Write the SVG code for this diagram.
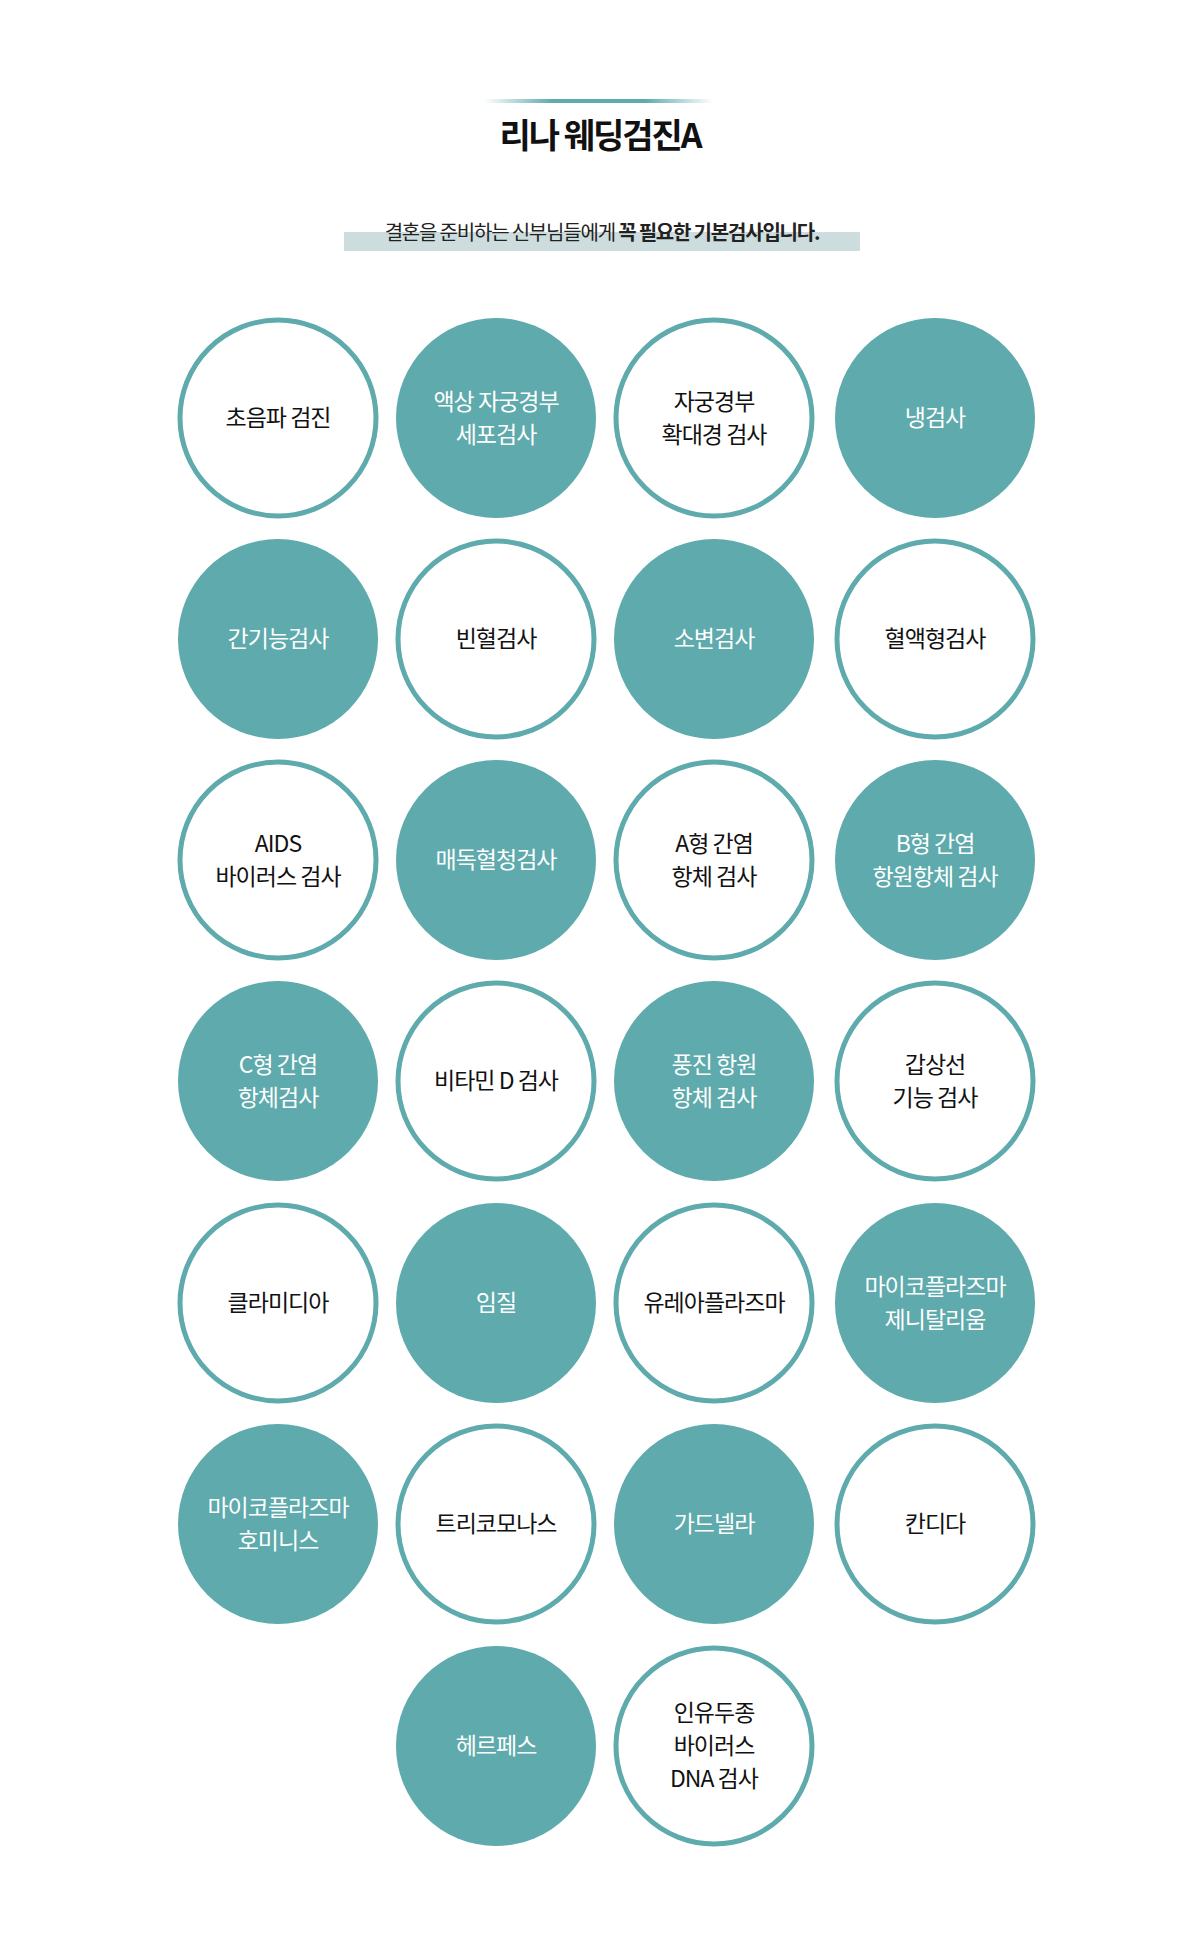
<svg xmlns="http://www.w3.org/2000/svg" width="1200" height="1943" viewBox="0 0 1200 1943">
<defs>
<linearGradient id="g" x1="0" x2="1"><stop offset="0" stop-color="#5eaaac" stop-opacity="0"/><stop offset="0.3" stop-color="#5eaaac"/><stop offset="0.7" stop-color="#5eaaac"/><stop offset="1" stop-color="#5eaaac" stop-opacity="0"/></linearGradient>
<style>
text{font-family:"Noto Sans CJK KR","Noto Sans",sans-serif;text-anchor:middle}
.f circle{fill:#5eaaac}
.f text{fill:#fff}
.o circle{fill:#fff;stroke:#5eaaac;stroke-width:5}
.o text{fill:#111}
.n text{font-size:23px;letter-spacing:-1px}
</style>
</defs>
<rect width="1200" height="1943" fill="#fff"/>
<rect x="484" y="99" width="229" height="4" fill="url(#g)"/>
<text x="600" y="148" font-size="34" font-weight="bold" fill="#111" letter-spacing="-2">리나 웨딩검진A</text>
<rect x="344" y="232" width="516" height="19" fill="#cddddd"/>
<text x="602" y="240" font-size="20" fill="#222" letter-spacing="-1.2">결혼을 준비하는 신부님들에게 <tspan font-weight="bold">꼭 필요한 기본검사입니다.</tspan></text>
<g class="n">
<g id="n1" class="o"><circle cx="278" cy="418" r="98"/><text x="278" y="426">초음파 검진</text></g>
<g id="n2" class="f"><circle cx="496" cy="418" r="100"/><text x="496" y="410">액상 자궁경부</text><text x="496" y="443">세포검사</text></g>
<g id="n3" class="o"><circle cx="714" cy="418" r="98"/><text x="714" y="410">자궁경부</text><text x="714" y="443">확대경 검사</text></g>
<g id="n4" class="f"><circle cx="935" cy="418" r="100"/><text x="935" y="426">냉검사</text></g>

<g id="n5" class="f"><circle cx="278" cy="639" r="100"/><text x="278" y="647">간기능검사</text></g>
<g id="n6" class="o"><circle cx="496" cy="639" r="98"/><text x="496" y="647">빈혈검사</text></g>
<g id="n7" class="f"><circle cx="714" cy="639" r="100"/><text x="714" y="647">소변검사</text></g>
<g id="n8" class="o"><circle cx="935" cy="639" r="98"/><text x="935" y="647">혈액형검사</text></g>

<g id="n9" class="o"><circle cx="278" cy="860" r="98"/><text x="278" y="852">AIDS</text><text x="278" y="885">바이러스 검사</text></g>
<g id="n10" class="f"><circle cx="496" cy="860" r="100"/><text x="496" y="868">매독혈청검사</text></g>
<g id="n11" class="o"><circle cx="714" cy="860" r="98"/><text x="714" y="852">A형 간염</text><text x="714" y="885">항체 검사</text></g>
<g id="n12" class="f"><circle cx="935" cy="860" r="100"/><text x="935" y="852">B형 간염</text><text x="935" y="885">항원항체 검사</text></g>

<g id="n13" class="f"><circle cx="278" cy="1081" r="100"/><text x="278" y="1073">C형 간염</text><text x="278" y="1106">항체검사</text></g>
<g id="n14" class="o"><circle cx="496" cy="1081" r="98"/><text x="496" y="1089">비타민 D 검사</text></g>
<g id="n15" class="f"><circle cx="714" cy="1081" r="100"/><text x="714" y="1073">풍진 항원</text><text x="714" y="1106">항체 검사</text></g>
<g id="n16" class="o"><circle cx="935" cy="1081" r="98"/><text x="935" y="1073">갑상선</text><text x="935" y="1106">기능 검사</text></g>

<g id="n17" class="o"><circle cx="278" cy="1303" r="98"/><text x="278" y="1311">클라미디아</text></g>
<g id="n18" class="f"><circle cx="496" cy="1303" r="100"/><text x="496" y="1311">임질</text></g>
<g id="n19" class="o"><circle cx="714" cy="1303" r="98"/><text x="714" y="1311">유레아플라즈마</text></g>
<g id="n20" class="f"><circle cx="935" cy="1303" r="100"/><text x="935" y="1295">마이코플라즈마</text><text x="935" y="1328">제니탈리움</text></g>

<g id="n21" class="f"><circle cx="278" cy="1524" r="100"/><text x="278" y="1516">마이코플라즈마</text><text x="278" y="1549">호미니스</text></g>
<g id="n22" class="o"><circle cx="496" cy="1524" r="98"/><text x="496" y="1532">트리코모나스</text></g>
<g id="n23" class="f"><circle cx="714" cy="1524" r="100"/><text x="714" y="1532">가드넬라</text></g>
<g id="n24" class="o"><circle cx="935" cy="1524" r="98"/><text x="935" y="1532">칸디다</text></g>

<g id="n25" class="f"><circle cx="496" cy="1746" r="100"/><text x="496" y="1754">헤르페스</text></g>
<g id="n26" class="o"><circle cx="714" cy="1746" r="98"/><text x="714" y="1721">인유두종</text><text x="714" y="1754">바이러스</text><text x="714" y="1787">DNA 검사</text></g>
</g>
<g id="connectors"></g>
</svg>
